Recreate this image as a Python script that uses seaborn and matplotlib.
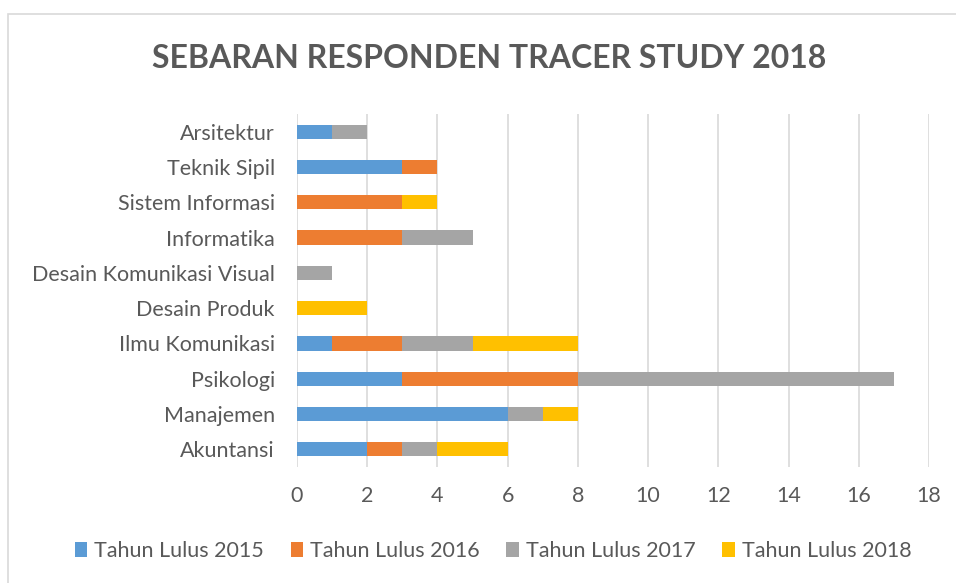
import matplotlib
matplotlib.use("Agg")
import matplotlib.pyplot as plt
import seaborn as sns
import pandas as pd
import numpy as np
from matplotlib.patches import Rectangle, Patch

categories = ["Arsitektur", "Teknik Sipil", "Sistem Informasi", "Informatika",
              "Desain Komunikasi Visual", "Desain Produk", "Ilmu Komunikasi",
              "Psikologi", "Manajemen", "Akuntansi"]
series_names = ["Tahun Lulus 2015", "Tahun Lulus 2016", "Tahun Lulus 2017", "Tahun Lulus 2018"]
v2015 = [1, 3, 0, 0, 0, 0, 1, 3, 6, 2]
v2016 = [0, 1, 3, 3, 0, 0, 2, 5, 0, 1]
v2017 = [1, 0, 0, 2, 1, 0, 2, 9, 1, 1]
v2018 = [0, 0, 1, 0, 0, 2, 3, 0, 1, 2]
colors = ["#5B9BD5", "#ED7D31", "#A5A5A5", "#FFC000"]
xticks = list(range(0, 19, 2))

sns.set_theme(style="white")
plt.rcParams["font.family"] = ["Lato", "DejaVu Sans"]
text_color = "#595959"

df = pd.DataFrame({"Program": categories, series_names[0]: v2015,
                   series_names[1]: v2016, series_names[2]: v2017,
                   series_names[3]: v2018})
cum = df[series_names].cumsum(axis=1)

fig = plt.figure(figsize=(9.56, 5.83), dpi=100)
ax = fig.add_axes([297/956, 1-467/583, (929-297)/956, 353/583])

for name, col in reversed(list(zip(series_names, colors))):
    sns.barplot(x=cum[name], y=df["Program"], order=categories, orient="h",
                color=col, width=0.4, ax=ax, saturation=1, edgecolor="none",
                zorder=3)

ax.set_xlim(0, 18)
ax.set_ylim(9.5, -0.5)
ax.set_xticks(xticks)
ax.set_xticklabels([str(t) for t in xticks])
ax.grid(axis="x", color="#D9D9D9", linewidth=1.2, zorder=0)
ax.grid(axis="y", visible=False)
for s in ax.spines.values():
    s.set_visible(False)
ax.set_xlabel("")
ax.set_ylabel("")
ax.tick_params(axis="both", length=0, labelsize=15.5, colors=text_color)
ax.tick_params(axis="x", pad=14)
ax.tick_params(axis="y", pad=16)

fig.text(489/956, 1-58/583, "SEBARAN RESPONDEN TRACER STUDY 2018",
         ha="center", va="center", fontsize=23, fontweight="bold", color=text_color)

handles = [Patch(facecolor=c, edgecolor="none", label=n) for n, c in zip(series_names, colors)]
fig.legend(handles=handles, loc="center", bbox_to_anchor=(493/956, 1-551/583),
           ncol=4, frameon=False, fontsize=15.5, handlelength=0.6, handleheight=0.75,
           handletextpad=0.3, columnspacing=1.25, labelcolor=text_color)

fig.patches.append(Rectangle((8/956, -0.1), 1.2, 1-14/583 + 0.1, transform=fig.transFigure,
                             fill=False, edgecolor="#D9D9D9", linewidth=1.2))

fig.savefig("out.png", dpi=100)
